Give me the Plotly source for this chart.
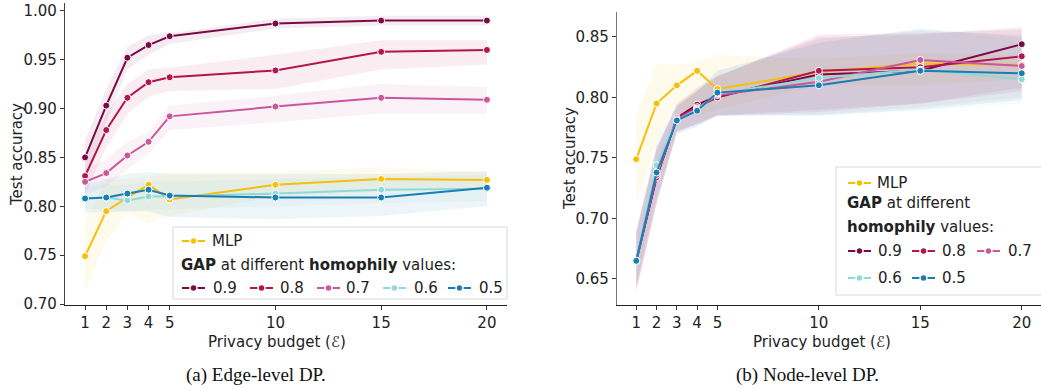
import plotly.graph_objects as go

W, H = 1041, 390

eps = [1, 2, 3, 4, 5, 10, 15, 20]
series_names = ["MLP", "0.9", "0.8", "0.7", "0.6", "0.5"]
colors = {"MLP": "#f5bf0a", "0.9": "#7a0a47", "0.8": "#b3154f",
          "0.7": "#c9579c", "0.6": "#8fdad6", "0.5": "#1a7db3"}

# ---- (a) Edge-level DP ----
edge_mean = {
    "MLP": [0.749, 0.795, 0.809, 0.822, 0.807, 0.822, 0.828, 0.827],
    "0.9": [0.850, 0.903, 0.952, 0.965, 0.974, 0.987, 0.990, 0.990],
    "0.8": [0.831, 0.878, 0.911, 0.927, 0.932, 0.939, 0.958, 0.960],
    "0.7": [0.825, 0.834, 0.852, 0.866, 0.892, 0.902, 0.911, 0.909],
    "0.6": [0.808, 0.809, 0.806, 0.810, 0.810, 0.813, 0.817, 0.818],
    "0.5": [0.808, 0.809, 0.813, 0.817, 0.811, 0.809, 0.809, 0.819],
}
edge_lo = {
    "MLP": [0.713, 0.765, 0.793, 0.783, 0.790, 0.810, 0.815, 0.818],
    "0.9": [0.832, 0.885, 0.940, 0.955, 0.966, 0.982, 0.985, 0.985],
    "0.8": [0.812, 0.860, 0.895, 0.912, 0.918, 0.920, 0.940, 0.945],
    "0.7": [0.812, 0.820, 0.838, 0.854, 0.878, 0.886, 0.895, 0.895],
    "0.6": [0.797, 0.797, 0.795, 0.797, 0.797, 0.800, 0.803, 0.805],
    "0.5": [0.794, 0.794, 0.795, 0.795, 0.789, 0.787, 0.790, 0.800],
}
edge_hi = {
    "MLP": [0.785, 0.827, 0.828, 0.830, 0.835, 0.835, 0.840, 0.835],
    "0.9": [0.868, 0.920, 0.963, 0.975, 0.977, 0.992, 0.995, 0.995],
    "0.8": [0.850, 0.895, 0.925, 0.940, 0.942, 0.955, 0.970, 0.970],
    "0.7": [0.838, 0.848, 0.866, 0.876, 0.903, 0.913, 0.925, 0.922],
    "0.6": [0.820, 0.822, 0.822, 0.825, 0.825, 0.828, 0.830, 0.832],
    "0.5": [0.822, 0.828, 0.833, 0.835, 0.833, 0.833, 0.833, 0.836],
}

# ---- (b) Node-level DP ----
node_mean = {
    "MLP": [0.749, 0.795, 0.810, 0.822, 0.807, 0.821, 0.828, 0.827],
    "0.9": [0.665, 0.734, 0.783, 0.794, 0.801, 0.819, 0.822, 0.844],
    "0.8": [0.665, 0.734, 0.783, 0.792, 0.800, 0.822, 0.825, 0.834],
    "0.7": [0.665, 0.736, 0.782, 0.791, 0.802, 0.813, 0.831, 0.826],
    "0.6": [0.665, 0.744, 0.781, 0.790, 0.803, 0.816, 0.823, 0.815],
    "0.5": [0.665, 0.738, 0.781, 0.789, 0.804, 0.810, 0.822, 0.820],
}
node_lo = {
    "MLP": [0.713, 0.763, 0.793, 0.784, 0.790, 0.810, 0.810, 0.815],
    "0.9": [0.640, 0.712, 0.772, 0.778, 0.785, 0.788, 0.795, 0.805],
    "0.8": [0.640, 0.712, 0.772, 0.778, 0.785, 0.790, 0.795, 0.808],
    "0.7": [0.642, 0.714, 0.771, 0.778, 0.785, 0.786, 0.792, 0.800],
    "0.6": [0.645, 0.722, 0.770, 0.776, 0.785, 0.785, 0.789, 0.795],
    "0.5": [0.643, 0.716, 0.770, 0.776, 0.785, 0.785, 0.790, 0.798],
}
node_hi = {
    "MLP": [0.785, 0.828, 0.827, 0.829, 0.835, 0.832, 0.837, 0.835],
    "0.9": [0.690, 0.758, 0.795, 0.808, 0.818, 0.850, 0.852, 0.858],
    "0.8": [0.690, 0.756, 0.794, 0.806, 0.817, 0.852, 0.853, 0.856],
    "0.7": [0.688, 0.758, 0.793, 0.805, 0.818, 0.848, 0.855, 0.852],
    "0.6": [0.688, 0.765, 0.792, 0.806, 0.822, 0.846, 0.856, 0.848],
    "0.5": [0.686, 0.760, 0.792, 0.805, 0.822, 0.845, 0.857, 0.850],
}

x_ticks = [1, 2, 3, 4, 5, 10, 15, 20]
edge_yticks = [0.70, 0.75, 0.80, 0.85, 0.90, 0.95, 1.00]
node_yticks = [0.65, 0.70, 0.75, 0.80, 0.85]

FONT = "DejaVu Sans"
FS = 15


def rgba(hexc, a):
    h = hexc.lstrip("#")
    r, g, b = int(h[0:2], 16), int(h[2:4], 16), int(h[4:6], 16)
    return f"rgba({r},{g},{b},{a})"


def px(x):
    return x / W


def py(y):
    return 1 - y / H


fig = go.Figure()


def add_panel(mean, lo, hi, xa, ya):
    for name in series_names:
        c = colors[name]
        fig.add_trace(go.Scatter(x=eps, y=hi[name], mode="lines", line=dict(width=0),
                                 xaxis=xa, yaxis=ya, showlegend=False, hoverinfo="skip"))
        fig.add_trace(go.Scatter(x=eps, y=lo[name], mode="lines", line=dict(width=0),
                                 fill="tonexty", fillcolor=rgba(c, 0.08),
                                 xaxis=xa, yaxis=ya, showlegend=False, hoverinfo="skip"))
    for name in series_names:
        c = colors[name]
        fig.add_trace(go.Scatter(x=eps, y=mean[name], mode="lines+markers", name=name,
                                 line=dict(color=c, width=2),
                                 marker=dict(size=7, color=c, line=dict(color="white", width=1)),
                                 xaxis=xa, yaxis=ya, showlegend=False))


add_panel(edge_mean, edge_lo, edge_hi, "x", "y")
add_panel(node_mean, node_lo, node_hi, "x2", "y2")

axis_common = dict(showgrid=False, zeroline=False, ticks="outside", ticklen=4,
                   tickwidth=1, tickcolor="#333", showline=True, linewidth=1.2,
                   automargin=False, ticklabeloverflow="allow",
                   tickfont=dict(family=FONT, size=FS, color="#222"))

fig.update_layout(
    width=W, height=H, margin=dict(l=0, r=0, t=0, b=0),
    paper_bgcolor="white", plot_bgcolor="white", showlegend=False,
    xaxis=dict(domain=[px(65), px(507)], range=[0.05, 20.95], tickvals=x_ticks,
               anchor="y", linecolor="#222", **axis_common),
    yaxis=dict(domain=[py(305), py(3)], range=[0.699, 1.008], tickvals=edge_yticks,
               tickformat=".2f", anchor="x", linecolor="#444", **axis_common),
    xaxis2=dict(domain=[px(617), 1.0], range=[0.05, 20.95], tickvals=x_ticks,
                anchor="y2", linecolor="#222", **axis_common),
    yaxis2=dict(domain=[py(305), py(12)], range=[0.6285, 0.8706], tickvals=node_yticks,
                tickformat=".2f", anchor="x2", linecolor="#777", **axis_common),
)

shapes = []
annotations = []


def text_at(x, y, text, size=FS, angle=0, anchor="center", family=FONT, color="#222"):
    annotations.append(dict(text=text, xref="paper", yref="paper", x=px(x), y=py(y),
                            xanchor=anchor, yanchor="middle", showarrow=False, textangle=angle,
                            font=dict(family=family, size=size, color=color)))


# axis titles
text_at(17, 155, "Test accuracy", angle=-90)
text_at(570, 159, "Test accuracy", angle=-90)
text_at(277, 342, "Privacy budget (ℰ)")
text_at(822, 342, "Privacy budget (ℰ)")


def legend_box(x0, y0, x1, y1):
    shapes.append(dict(type="rect", xref="paper", yref="paper",
                       x0=px(x0), x1=px(x1), y0=py(y1), y1=py(y0),
                       line=dict(color="#d9d9d9", width=1), fillcolor="rgba(255,255,255,0.8)",
                       layer="above"))


def legend_item(xs, y, xt, label, color):
    shapes.append(dict(type="line", xref="paper", yref="paper",
                       x0=px(xs), x1=px(xs + 23), y0=py(y), y1=py(y),
                       line=dict(color=color, width=2), layer="above"))
    cx = xs + 11.5
    shapes.append(dict(type="circle", xref="paper", yref="paper",
                       x0=px(cx - 3.5), x1=px(cx + 3.5), y0=py(y + 3.5), y1=py(y - 3.5),
                       line=dict(color="white", width=1.5), fillcolor=color, layer="above"))
    text_at(xt, y, label, anchor="left")


# Legend (a)
legend_box(173, 227, 507, 299)
legend_item(182, 241, 210, "MLP", colors["MLP"])
text_at(179, 265, "<b>GAP</b> at different <b>homophily</b> values:", anchor="left")
for nm, xs, xt in [("0.9", 182, 211), ("0.8", 250, 278), ("0.7", 317, 344),
                   ("0.6", 383, 412), ("0.5", 448, 477)]:
    legend_item(xs, 288, xt, nm, colors[nm])

# Legend (b)
legend_box(836, 167, 1045, 295)
legend_item(848, 183, 875, "MLP", colors["MLP"])
text_at(845, 203, "<b>GAP</b> at different", anchor="left")
text_at(845, 227, "<b>homophily</b> values:", anchor="left")
for nm, xs, xt, yy in [("0.9", 848, 876, 251), ("0.8", 912, 940, 251), ("0.7", 977, 1006, 251),
                       ("0.6", 848, 876, 278), ("0.5", 912, 940, 278)]:
    legend_item(xs, yy, xt, nm, colors[nm])

# Captions
text_at(256, 375, "(a) Edge-level DP.", size=19, family="Liberation Serif", color="#111")
text_at(807, 375, "(b) Node-level DP.", size=19, family="Liberation Serif", color="#111")

fig.update_layout(shapes=shapes, annotations=annotations)
fig.write_html("out.html", config={"displayModeBar": False},
               post_script="document.body.style.margin='0px';document.body.style.overflow='hidden';")
